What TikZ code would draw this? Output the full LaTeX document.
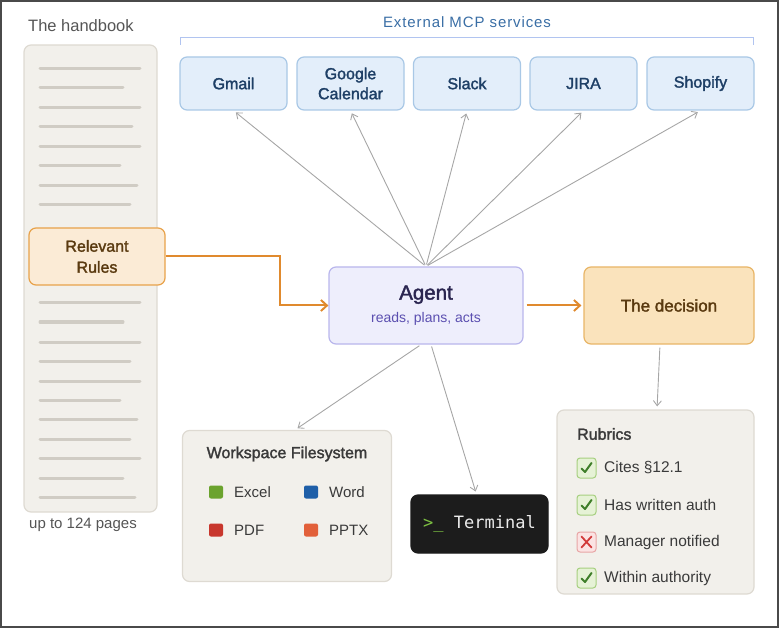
\documentclass[tikz,border=0pt]{standalone}
\usepackage{fontspec}
\setmainfont{Liberation Sans}
\newfontfamily\termfont{DejaVu Sans Mono}
\newfontfamily\spacedfont[LetterSpace=6]{Liberation Sans}
\newfontfamily\medfont[FakeBold=1.8]{Liberation Sans}
\usetikzlibrary{arrows.meta}
\definecolor{framecol}{HTML}{4A4A4A}
\definecolor{paper}{HTML}{F2F0EB}
\definecolor{paperline}{HTML}{DEDAD2}
\definecolor{pagerule}{HTML}{D0CCC4}
\definecolor{greytext}{HTML}{555555}
\definecolor{darktext}{HTML}{3A3A3A}
\definecolor{svcfill}{HTML}{E3EEFA}
\definecolor{svcline}{HTML}{A9C8E6}
\definecolor{svctext}{HTML}{1E3F66}
\definecolor{mcpblue}{HTML}{3A6EA5}
\definecolor{rulefill}{HTML}{FBEBD6}
\definecolor{ruleline}{HTML}{E8A24A}
\definecolor{brown}{HTML}{5A3A10}
\definecolor{flow}{HTML}{E08A2E}
\definecolor{agentfill}{HTML}{EEEEFC}
\definecolor{agentline}{HTML}{B9B6EC}
\definecolor{agenttext}{HTML}{2A2550}
\definecolor{agentsub}{HTML}{5B4FB0}
\definecolor{decfill}{HTML}{FAE3BC}
\definecolor{decline}{HTML}{E8B567}
\definecolor{link}{HTML}{A6A6A6}
\definecolor{termbg}{HTML}{1C1C1C}
\definecolor{termgreen}{HTML}{7DC142}
\definecolor{excelc}{HTML}{6BA32E}
\definecolor{wordc}{HTML}{1F5FA8}
\definecolor{pdfc}{HTML}{C8372D}
\definecolor{pptxc}{HTML}{E2603A}
\definecolor{okfill}{HTML}{E6F2D6}
\definecolor{okline}{HTML}{A6CF7F}
\definecolor{okmark}{HTML}{3F7F2A}
\definecolor{nofill}{HTML}{FBE3E3}
\definecolor{noline}{HTML}{E8A5A5}
\definecolor{nomark}{HTML}{D23B3B}

\begin{document}
\begin{tikzpicture}[x=1pt,y=-1pt,
    box/.style={draw, rounded corners=7pt, line width=1.2pt, inner sep=0pt, align=center},
    svc/.style={box, fill=svcfill, draw=svcline, text=svctext, minimum width=107pt, minimum height=53pt,
      font=\medfont\fontsize{16pt}{20pt}\selectfont},
    panel/.style={box, fill=paper, draw=paperline},
    txt/.style={inner sep=0pt, anchor=west, text=darktext, font=\fontsize{15.5pt}{18pt}\selectfont},
    swatch/.style={rounded corners=2pt, minimum width=14pt, minimum height=13pt, inner sep=0pt},
    tick/.style={rounded corners=3pt, line width=1pt, minimum width=19pt, minimum height=20pt, inner sep=0pt},
    linkarrow/.style={draw=link, line width=0.9pt, -{Straight Barb[length=5pt,width=8pt]}, shorten >=3pt, shorten <=2pt},
    flowarrow/.style={draw=flow, line width=2pt, -{Straight Barb[length=6pt,width=11pt]}}]
  \useasboundingbox (0,0) rectangle (779,628);
  \draw[framecol, line width=2pt] (1,1) rectangle (778,627);

  \node[inner sep=0pt, anchor=west, text=greytext, font=\fontsize{16.5pt}{19pt}\selectfont] (booktitle) at (28,26) {The handbook};
  \node[panel, minimum width=133pt, minimum height=467pt] (book) at (90.5,278.5) {};
  \foreach \y/\l in {69/140, 88/123, 108/140, 127/132, 147/140, 166/120, 186/137, 205/130,
                     303/140, 322/123, 342/140, 361/130, 381/140, 400/120, 419/137, 439/130, 458/140, 478/123, 497/135}
    \draw[pagerule, line width=3pt, line cap=round] (40,\y) -- (\l,\y);
  \node[inner sep=0pt, anchor=west, text=greytext, font=\fontsize{15pt}{18pt}\selectfont] (pages) at (29,525) {up to 124 pages};
  \node[box, fill=rulefill, draw=ruleline, text=brown, minimum width=136pt, minimum height=57pt,
        font=\medfont\fontsize{16pt}{21pt}\selectfont] (rules) at (97,256.5) {Relevant\\Rules};

  \node[text=mcpblue, font=\spacedfont\fontsize{15pt}{18pt}\selectfont] (mcp) at (467,22) {External MCP services};
  \draw[svcline!85!blue!70!white, line width=1pt] (180,45) -- (180,38) -- (753,38) -- (753,45);
  \foreach \x/\n/\t in {233.5/gmail/Gmail, 350.5/gcal/{Google\\Calendar}, 467/slack/Slack, 583.5/jira/JIRA, 700.5/shopify/Shopify}
    \node[svc] (\n) at (\x,83.5) {\t};

  \node[box, fill=agentfill, draw=agentline, minimum width=194pt, minimum height=77pt, font=\fontsize{14pt}{17pt}\selectfont] (agent) at (426,305.5)
    {{\medfont\fontsize{20.5pt}{24pt}\selectfont\color{agenttext}Agent}\\[6pt]{\color{agentsub}reads, plans, acts}};
  \node[box, fill=decfill, draw=decline, text=brown, minimum width=170pt, minimum height=77pt,
        font=\medfont\fontsize{17pt}{20pt}\selectfont] (decision) at (669,305.5) {The decision};

  \foreach \n in {gmail, gcal, slack, jira, shopify}
    \draw[linkarrow] (agent.north) -- (\n.south);

  \draw[flowarrow] (rules.east) -- ++(114,0) |- (agent.west);
  \draw[flowarrow, shorten <=3pt, shorten >=2pt] (agent.east) -- (decision.west);

  \node[panel, minimum width=209pt, minimum height=151pt] (ws) at (287,506) {};
  \node[inner sep=0pt, text=darktext, font=\medfont\fontsize{16pt}{19pt}\selectfont] (wstitle) at (287,454) {Workspace Filesystem};
  \foreach \x/\y/\c/\t in {216/492/excelc/Excel, 311/492/wordc/Word, 216/530/pdfc/PDF, 311/530/pptxc/PPTX} {
    \node[swatch, fill=\c] (sw\t) at (\x,\y) {};
    \node[txt, font=\fontsize{15pt}{18pt}\selectfont, text=darktext] (lb\t) at (\x+18,\y) {\t};
  }

  \node[box, fill=termbg, draw=termbg, minimum width=137pt, minimum height=58pt,
        font=\termfont\fontsize{17pt}{20pt}\selectfont] (term) at (479.5,524)
    {{\color{termgreen}>\_} {\color{white!92!black}Terminal}};

  \draw[linkarrow] ([xshift=-5pt]agent.south) -- ([xshift=8pt]ws.north);
  \draw[linkarrow] ([xshift=5pt]agent.south) -- ([xshift=-3pt]term.north);

  \node[panel, minimum width=197pt, minimum height=184pt] (rubrics) at (655.5,502) {};
  \node[inner sep=0pt, anchor=west, text=darktext, font=\medfont\fontsize{16pt}{19pt}\selectfont] (rubtitle) at (577,434) {Rubrics};
  \draw[linkarrow, shorten <=3pt] ([xshift=-9pt]decision.south) -- ([xshift=1.5pt]rubrics.north);

  \foreach \y/\m/\t [count=\i] in {468/ok/Cites \S12.1, 505/ok/Has written auth, 542/no/Manager notified, 578/ok/Within authority} {
    \node[tick, fill=\m fill, draw=\m line] (box\i) at (586.5,\y) {};
    \node[txt] (item\i) at (604,\y) {\t};
  }
  \foreach \i in {1,2,4}
    \draw[okmark, line width=2pt, line cap=round, line join=round]
      ([shift={(-5,0.5)}]box\i.center) -- ([shift={(-1.5,4)}]box\i.center) -- ([shift={(5,-5)}]box\i.center);
  \draw[nomark, line width=1.8pt, line cap=round]
    ([shift={(-5,-5.5)}]box3.center) -- ([shift={(5,5.5)}]box3.center)
    ([shift={(5,-5.5)}]box3.center) -- ([shift={(-5,5.5)}]box3.center);
\end{tikzpicture}
\end{document}
